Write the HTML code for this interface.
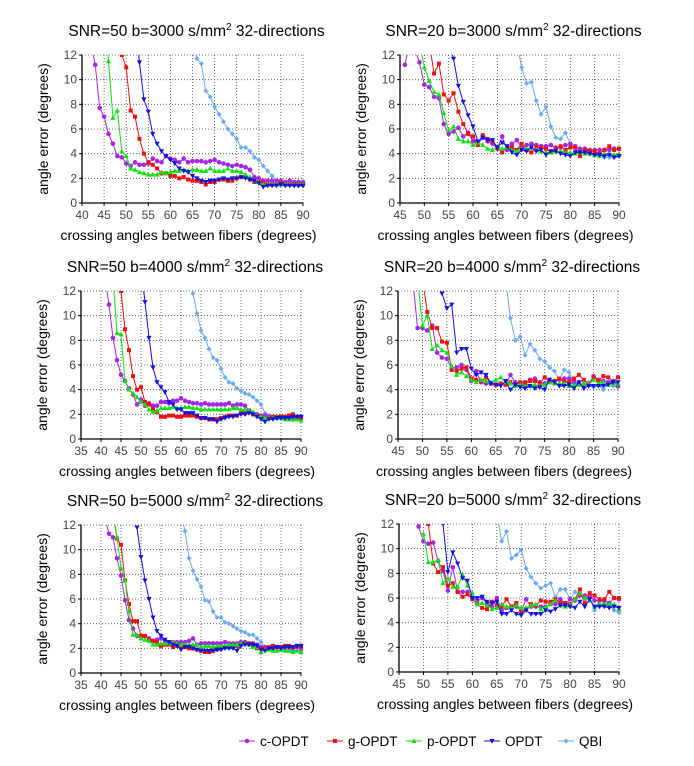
<!DOCTYPE html>
<html><head><meta charset="utf-8">
<style>
body{margin:0;background:#fff;}
svg{display:block;font-family:"Liberation Sans",Arial,sans-serif;}
</style></head>
<body>
<svg id="fig" width="694" height="766" viewBox="0 0 694 766" xmlns="http://www.w3.org/2000/svg">
<rect width="694" height="766" fill="#fff"/>
</svg>
<script>
const seriesNames = ["c-OPDT","g-OPDT","p-OPDT","OPDT","QBI"];
const seriesColors = ["#a526e8","#f01010","#10e010","#1010e0","#6aaaf2"];
const yTicks = [0,2,4,6,8,10,12];

const titles = ["SNR=50  b=3000 s/mm","SNR=20  b=3000 s/mm","SNR=50  b=4000 s/mm","SNR=20  b=4000 s/mm","SNR=50  b=5000 s/mm","SNR=20  b=5000 s/mm"];
const xMins = [40,45,35,45,35,45];

const p1_start=[42,49,45,52,65];
const p1_c=[13,11.2,7.7,7,5.6,4.8,3.8,3.7,3.2,3.0,3.3,3.1,3.1,3.2,3.6,3.4,3.3,3.8,3.6,3.5,3.3,3.6,3.3,3.4,3.4,3.4,3.3,3.4,3.5,3.3,3.2,3.1,3.0,3.1,3.0,2.9,2.7,2.1,2.0,1.8,1.8,1.8,1.8,1.8,1.7,1.8,1.7,1.7,1.7];
const p1_g=[12,11,7.5,7,5.2,4,3.3,3.1,2.8,2.4,2.4,2.2,2.2,2.0,2.1,1.9,1.8,1.8,1.7,1.5,1.7,1.7,1.9,1.9,1.8,1.8,2.0,2.1,2.1,1.9,1.7,1.7,1.6,1.5,1.5,1.5,1.6,1.5,1.5,1.5,1.5,1.5];
const p1_p=[15,11.5,6.9,7.5,4.2,3.8,2.8,2.7,2.5,2.4,2.3,2.3,2.3,2.5,2.4,2.5,2.6,2.6,2.7,2.6,2.7,2.7,2.6,2.6,2.8,2.6,2.6,2.6,2.8,2.6,2.6,2.5,2.3,2.1,1.8,1.7,1.5,1.5,1.5,1.5,1.5,1.5,1.5,1.5,1.5,1.5];
const p1_o=[15,11.4,8.4,7.4,5.6,4.8,4.2,3.8,3.5,3.2,2.8,2.6,2.5,2.2,2.0,1.8,1.7,1.8,1.8,1.9,2.0,1.9,2.0,2.0,2.1,2.0,1.9,1.8,1.6,1.3,1.4,1.4,1.4,1.5,1.4,1.4,1.4,1.4,1.4];
const p1_q=[13,11.7,11.3,9.1,8.6,7.8,7.2,6.6,6.0,5.6,5.2,4.5,4.5,4.2,3.7,3.5,3.0,2.6,2.2,1.8,1.6,1.5,1.5,1.4,1.4,1.4];

const p2_start=[46,51,49,55,69];
const p2_c=[11.2,13,12.5,11.4,9.6,9.4,8.6,8.5,6.4,5.6,5.8,6.1,5.4,5.7,5.0,4.8,5.3,5.0,4.8,4.4,5.4,4.3,4.8,5.1,4.5,4.7,4.8,4.7,4.6,4.6,4.7,4.5,4.5,4.7,4.8,4.6,4.4,4.4,4.3,4.3,4.3,4.3,4.3,4.4,4.4];
const p2_g=[13,10.5,11.3,8.8,8.3,8.9,7.4,6.4,5.6,5.4,4.7,5.5,5.2,5.0,4.5,4.1,4.6,4.5,4.3,4.8,4.3,4.1,4.5,4.5,4.4,4.1,4.4,4.6,4.3,4.5,4.5,3.8,4.3,4.2,4.2,4.0,4.3,4.6,4.3,4.4];
const p2_p=[13,11,9.9,9.0,8.8,7.3,5.9,6.2,5.2,5.0,5.0,4.7,4.9,4.7,4.4,4.3,4.6,4.4,4.5,4.3,4.2,4.4,4.4,4.5,4.3,4.2,4.1,4.1,4.2,4.2,4.1,4.1,4.0,4.1,4.0,4.0,3.9,3.8,4.0,4.0,3.9,4.0];
const p2_o=[13,11.7,9.5,8.2,7.1,6.2,5.0,5.3,5.1,5.1,4.5,4.9,4.6,4.1,3.9,4.3,4.2,4.5,4.2,4.3,3.9,4.2,4.2,4.0,3.9,3.8,4.1,4.1,4.1,4.0,3.9,3.9,3.8,3.9,3.7,3.8];
const p2_q=[13,11,9.7,9.8,8.3,7.2,7.8,6.2,5.3,5.2,5.7,4.8,4.4,4.3,4.2,4.1,3.9,3.9,3.7,3.7,3.7,3.8];

const p3_start=[41,45,43,50,62];
const p3_c=[13,10.9,8.2,6.4,5.2,4.7,4.1,3.6,2.8,3.2,2.7,2.9,2.7,2.7,3.0,3.0,2.9,3.1,3.1,3.3,3.1,3.0,2.9,2.9,2.8,2.9,2.8,2.8,2.8,2.8,2.8,2.9,2.7,2.8,2.8,2.7,2.3,2.1,2.0,1.9,1.9,1.8,1.8,1.7,1.8,1.7,1.7,1.6,1.8,1.8];
const p3_g=[12,8.9,7.2,5.1,4.0,4.2,3.0,2.8,2.4,2.2,1.8,1.8,1.9,1.9,1.8,1.8,1.9,1.9,1.9,1.8,1.7,1.7,1.6,1.6,1.6,1.7,1.8,1.9,1.9,1.9,2.1,2.1,2.3,2.0,1.9,1.8,1.6,1.7,1.8,1.8,1.8,1.8,1.9,2.0,1.7,1.7];
const p3_p=[13,8.6,8.5,4.7,4.0,3.7,3.4,3.0,2.8,2.4,2.2,2.3,2.5,2.5,2.5,2.6,2.5,2.5,2.6,2.6,2.5,2.5,2.4,2.4,2.4,2.4,2.4,2.4,2.4,2.4,2.5,2.5,2.4,2.4,2.3,2.2,1.9,1.8,1.7,1.7,1.7,1.8,1.7,1.6,1.6,1.6,1.6,1.5];
const p3_o=[14,11.1,8.2,5.8,4.6,4.2,3.8,3.0,2.8,2.4,2.4,2.1,2.1,2.1,1.9,1.7,1.7,1.6,1.6,1.4,1.6,1.7,1.8,1.8,1.9,2.0,2.0,2.1,2.0,1.8,1.6,1.4,1.6,1.6,1.7,1.7,1.7,1.7,1.8,1.8,1.8];
const p3_q=[13,11.8,10.2,8.8,8.2,7.3,6.6,6.4,5.7,5.0,4.6,4.5,4.1,3.9,3.7,3.6,3.4,3.1,2.8,2.1,1.9,1.8,1.7,1.7,1.7,1.6,1.6,1.6,1.6];

const p4_start=[48,50,49,54,67];
const p4_c=[13,9.0,9.0,8.8,9.2,7.0,6.6,6.5,5.7,5.8,6.0,5.6,4.7,5.5,4.6,4.5,4.5,4.4,4.5,4.4,5.2,4.6,4.5,4.4,4.8,4.9,4.6,4.5,4.7,4.7,4.8,4.9,4.9,4.6,4.5,4.4,4.4,5.1,4.8,4.7,4.6,4.7,4.3];
const p4_g=[13,10.3,9.0,9.0,7.9,7.8,5.6,5.5,5.7,5.8,4.9,4.8,4.7,5.0,4.5,4.4,4.5,4.4,4.6,4.4,4.6,4.6,4.7,4.7,4.5,5.0,4.6,4.7,4.9,4.7,4.6,4.9,5.2,4.8,4.4,5.0,4.7,5.1,5.0,4.6,5.0];
const p4_p=[13,9.2,10.0,7.3,7.6,7.2,7.0,5.9,5.2,5.4,5.1,4.8,4.6,4.8,4.7,4.6,4.8,5.0,4.6,4.5,4.3,4.4,4.3,4.3,4.4,4.3,4.4,4.6,4.5,4.5,4.5,4.3,4.4,4.4,4.5,4.4,4.8,4.5,4.6,4.4,4.5,4.5];
const p4_o=[11.8,10.6,10.9,7.0,7.3,7.3,5.7,5.2,5.4,5.2,4.5,4.4,4.3,4.7,4.0,4.4,4.2,4.1,4.3,4.1,4.2,4.0,4.8,4.6,4.3,4.3,4.4,4.1,4.6,4.1,4.3,4.3,4.3,4.3,4.4,4.6,4.6];
const p4_q=[13,9.8,8.0,8.3,6.8,7.7,7.2,6.5,6.3,5.8,5.5,4.8,5.6,5.4,4.5,4.6,4.7,4.6,4.2,4.4,4.0,4.6,4.3,4.2];

const p5_start=[41,43,43,49,60];
const p5_c=[12.5,11.3,11.0,9.3,7.9,5.9,4.3,3.6,3.0,3.0,3.0,2.8,2.6,2.7,2.8,2.6,2.5,2.5,2.5,2.5,2.5,2.6,2.8,2.3,2.4,2.4,2.4,2.4,2.4,2.4,2.5,2.4,2.4,2.4,2.5,2.5,2.4,2.4,2.3,2.1,2.1,2.0,2.0,2.1,2.1,2.1,2.1,2.0,2.1,2.0];
const p5_g=[13,10.9,10.4,7.5,5.6,4.2,4.2,3.0,3.0,2.7,2.6,2.5,2.2,2.3,2.3,2.1,2.2,2.1,2.1,2.0,2.0,1.9,1.8,1.7,1.7,1.8,1.9,2.0,2.1,2.1,2.2,2.2,2.3,2.4,2.4,2.2,2.0,2.0,2.0,2.1,2.2,2.1,2.1,2.2,2.2,2.1,2.2,2.2];
const p5_p=[13,11.0,8.5,7.5,5.0,3.1,3.1,2.8,2.7,2.6,2.3,2.3,2.4,2.4,2.4,2.5,2.4,2.3,2.3,2.3,2.3,2.3,2.1,2.2,2.2,2.1,2.2,2.2,2.2,2.3,2.3,2.3,2.4,2.4,2.3,2.1,2.1,1.7,1.9,1.9,1.8,1.8,1.9,1.8,1.8,1.7,1.8,1.7];
const p5_o=[11.8,9.4,7.5,6.0,4.5,3.4,3.0,2.7,2.5,2.3,2.2,1.9,2.1,2.1,2.0,1.9,1.8,1.8,1.8,1.8,1.9,1.9,2.0,2.0,2.0,1.8,2.2,2.3,2.3,2.3,2.2,1.9,1.8,2.0,2.0,2.1,2.0,2.1,2.1,2.1,2.2,2.2];
const p5_q=[13,11.5,9.3,8.3,7.6,7.0,5.9,5.8,5.0,4.5,4.5,4.1,4.0,3.8,3.6,3.4,3.3,3.1,3.1,2.8,2.5,2.1,2.0,2.0,2.0,2.0,1.9,1.9,1.8,1.8,1.8];

const p6_start=[49,51,50,54,65];
const p6_c=[11.8,10.6,10.4,10.5,9.0,8.2,6.6,8.5,6.5,6.5,6.5,6.0,5.8,6.0,5.5,5.3,6.0,5.0,5.2,5.3,5.3,5.0,5.9,5.3,5.3,5.3,5.3,5.5,5.5,5.9,5.5,5.9,5.8,6.2,6.2,6.2,5.8,5.8,5.8,5.6,6.0,5.9];
const p6_g=[12,8.8,8.1,8.5,7.0,7.2,6.5,6.1,6.3,5.9,5.5,5.2,5.1,5.7,5.4,5.3,5.9,5.3,5.6,4.8,5.1,5.5,5.4,5.8,5.7,5.7,5.9,5.6,5.6,5.5,5.9,6.7,5.6,6.4,6.2,5.9,5.9,6.5,6.0,6.0];
const p6_p=[11.2,8.9,8.9,9.1,7.2,7.6,6.9,6.9,7.9,7.0,6.4,5.5,5.6,5.4,5.1,5.2,5.5,5.3,5.2,5.4,5.2,5.2,5.4,5.5,5.1,5.3,5.5,5.8,5.4,5.3,5.4,5.9,6.4,6.0,5.8,5.3,5.5,5.5,5.5,5.5,5.1];
const p6_o=[12,8.1,9.7,8.8,7.6,7.4,6.0,6.0,6.1,5.7,5.6,5.7,4.7,4.7,5.0,4.7,4.6,5.0,4.7,4.7,4.7,5.0,4.9,5.1,5.4,5.4,5.3,5.2,5.7,5.3,5.9,5.3,5.3,5.3,5.2,5.3,5.2];
const p6_q=[13,10.6,11.4,9.2,9.5,9.9,8.4,7.7,7.2,6.8,7.0,7.2,6.1,6.7,6.7,5.9,6.5,6.3,6.0,6.0,5.0,5.8,5.6,5.4,5.0,4.8];

const panelStarts=[p1_start,p2_start,p3_start,p4_start,p5_start,p6_start];
const panelSeries=[[p1_c,p1_g,p1_p,p1_o,p1_q],[p2_c,p2_g,p2_p,p2_o,p2_q],[p3_c,p3_g,p3_p,p3_o,p3_q],[p4_c,p4_g,p4_p,p4_o,p4_q],[p5_c,p5_g,p5_p,p5_o,p5_q],[p6_c,p6_g,p6_p,p6_o,p6_q]];

const NS="http://www.w3.org/2000/svg";
const svg=document.getElementById('fig');
function mk(tag,attrs,parent){const e=document.createElementNS(NS,tag);for(const k in attrs)e.setAttribute(k,attrs[k]);(parent||svg).appendChild(e);return e;}

const boxes=[[82,303,55,203],[400,619,55,203],[81,301,291,439],[398,618,291,439],[81,301,525,673],[399,619,524,672]];

function marker(g,k,x,y,c){
  let m;
  if(k===0){m=mk('circle',{cx:x,cy:y,r:2.3,fill:c},g);}
  else if(k===1){m=mk('rect',{x:x-2,y:y-2,width:4,height:4,fill:c},g);}
  else if(k===2){m=mk('polygon',{points:`${x},${y-2.7} ${x-2.6},${y+2} ${x+2.6},${y+2}`,fill:c},g);}
  else if(k===3){m=mk('polygon',{points:`${x},${y+2.7} ${x-2.6},${y-2} ${x+2.6},${y-2}`,fill:c},g);}
  else {m=mk('polygon',{points:`${x},${y-2.5} ${x+2.5},${y} ${x},${y+2.5} ${x-2.5},${y}`,fill:c},g);}
  return m;
}

boxes.forEach((b,pi)=>{
  const [L,R,T,B]=b;
  const xmin=xMins[pi];
  const xs=v=>L+(v-xmin)/(90-xmin)*(R-L);
  const ys=v=>B-v/12*(B-T);
  const g=mk('g',{});
  
  
  const cx=(L+R)/2;
  const t=mk('text',{x:cx+4,y:T-19,'font-size':15.5,'text-anchor':'middle',fill:'#000'},g);
  
  
  t.textContent=titles[pi];
  const ts=mk('tspan',{dy:-6,'font-size':10},t);ts.textContent='2';
  const ts2=mk('tspan',{dy:6},t);ts2.textContent='  32-directions';
  const grid=mk('g',{stroke:'#444','stroke-width':0.8,'stroke-dasharray':'1,2'},g);
  
  
  for(let v=xmin+5;v<=90;v+=5)mk('line',{x1:xs(v),y1:T,x2:xs(v),y2:B},grid);
  yTicks.forEach(v=>{if(v>0)mk('line',{x1:L,y1:ys(v),x2:R,y2:ys(v)},grid);});
  const ax=mk('path',{d:`M${L},${T}V${B}H${R}`,stroke:'#000','stroke-width':1.3,fill:'none'},g);
  
  
  yTicks.forEach(v=>{
    mk('line',{x1:L-3,y1:ys(v),x2:L,y2:ys(v),stroke:'#000'},g);
    const tl=mk('text',{x:L-5,y:ys(v)+4,'font-size':12,'text-anchor':'end',fill:'#444'},g);
    
    
    tl.textContent=v;
  });
  for(let v=xmin;v<=90;v+=5){
    mk('line',{x1:xs(v),y1:B,x2:xs(v),y2:B+3,stroke:'#000'},g);
    const tl=mk('text',{x:xs(v),y:B+16,'font-size':12,'text-anchor':'middle',fill:'#444'},g);
    
    
    tl.textContent=v;
  }
  const xl=mk('text',{x:cx-4,y:B+37,'font-size':14,'text-anchor':'middle',fill:'#000'},g);
  
  
  xl.textContent='crossing angles between fibers (degrees)';
  const yx=L-34, yy=(T+B)/2;
  const yl=mk('text',{x:yx,y:yy,'font-size':14,'text-anchor':'middle',fill:'#000',transform:`rotate(-90 ${yx} ${yy})`},g);
  
  
  yl.textContent='angle error (degrees)';
  const cp=mk('clipPath',{id:'clip'+pi},g);
  mk('rect',{x:L-4,y:T,width:R-L+8,height:B-T+4},cp);
  const plot=mk('g',{'clip-path':`url(#clip${pi})`},g);
  const order=[4,0,1,2,3];
  order.forEach(k=>{
    const vals=panelSeries[pi][k];const st=panelStarts[pi][k];const c=seriesColors[k];
    const sg=mk('g',{},plot);
    
    
    const pts=vals.map((v,i)=>xs(st+i)+','+ys(v)).join(' ');
    mk('polyline',{points:pts,fill:'none',stroke:c,'stroke-width':1},sg);
    vals.forEach((v,i)=>{const m=marker(sg,k,xs(st+i),ys(v),c);
      
      });
  });
});

const legX=[247,335,414,492,566];
const leg=mk('g',{});


seriesNames.forEach((n,k)=>{
  const e=mk('g',{},leg);
  
  
  mk('line',{x1:legX[k]-8,y1:741,x2:legX[k]+8,y2:741,stroke:seriesColors[k],'stroke-width':1},e);
  marker(e,k,legX[k],741,seriesColors[k]);
  const t=mk('text',{x:legX[k]+13,y:746,'font-size':13.5,fill:'#000'},e);
  t.textContent=n;
});
</script>
</body></html>
